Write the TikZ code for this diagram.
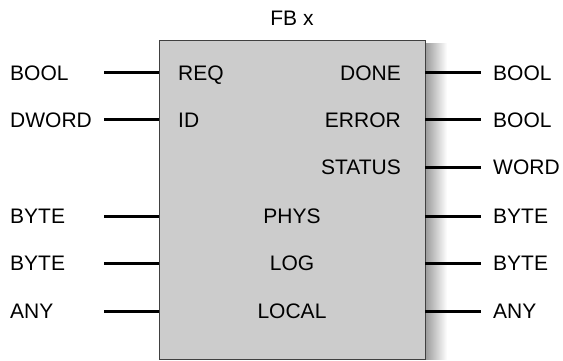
\documentclass[tikz,border=0pt]{standalone}
\usepackage{fontspec}
\setmainfont{Liberation Sans}
\begin{document}
\begin{tikzpicture}[x=1pt,y=-1pt,
  lbl/.style={font=\fontsize{21}{25}\selectfont, inner sep=0pt, text=black},
  wire/.style={line width=3pt, black},
  fbbox/.style={draw=black!75, fill=black!20, line width=1pt, inner sep=0pt,
                minimum width=266pt, minimum height=319pt}]
\useasboundingbox (0,0) rectangle (563,361);
% shadow
\shade[left color=black!40, right color=white] (425,44) rectangle (447,359);
\node[fbbox, anchor=north west] (fb) at (159,40) {};
\node[lbl, anchor=base] (title) at (292,25.5) {FB x};
% left side
\node[lbl, anchor=base west] (tREQ) at (10,80.5) {BOOL};
\node[lbl, anchor=base west] (tID) at (10,127.5) {DWORD};
\node[lbl, anchor=base west] (tPHYS) at (10,223.5) {BYTE};
\node[lbl, anchor=base west] (tLOG) at (10,270.5) {BYTE};
\node[lbl, anchor=base west] (tLOCAL) at (10,318) {ANY};
\node[lbl, anchor=base west] (pREQ) at (178,80.5) {REQ};
\node[lbl, anchor=base west] (pID) at (178,127.5) {ID};
\node[lbl, anchor=base] (pPHYS) at (292,223.5) {PHYS};
\node[lbl, anchor=base] (pLOG) at (292,270.5) {LOG};
\node[lbl, anchor=base] (pLOCAL) at (292,318) {LOCAL};
\foreach \n/\y in {REQ/73, ID/120, PHYS/216, LOG/263, LOCAL/311}{
  \coordinate (s\n) at (104,\y);
  \coordinate (i\n) at (159,\y);
  \draw[wire] (s\n) -- (i\n);
}
% right side
\node[lbl, anchor=base east] (pDONE) at (401,80.5) {DONE};
\node[lbl, anchor=base east] (pERROR) at (401,127.5) {ERROR};
\node[lbl, anchor=base east] (pSTATUS) at (401,174.5) {STATUS};
\node[lbl, anchor=base west] (tDONE) at (493,80.5) {BOOL};
\node[lbl, anchor=base west] (tERROR) at (493,127.5) {BOOL};
\node[lbl, anchor=base west] (tSTATUS) at (493,174.5) {WORD};
\node[lbl, anchor=base west] (tPHYSo) at (493,223.5) {BYTE};
\node[lbl, anchor=base west] (tLOGo) at (493,270.5) {BYTE};
\node[lbl, anchor=base west] (tLOCALo) at (493,318) {ANY};
\foreach \n/\y in {DONE/73, ERROR/120, STATUS/167, PHYSo/216, LOGo/263, LOCALo/311}{
  \coordinate (o\n) at (425,\y);
  \coordinate (e\n) at (481,\y);
  \draw[wire] (o\n) -- (e\n);
}
\end{tikzpicture}
\end{document}
